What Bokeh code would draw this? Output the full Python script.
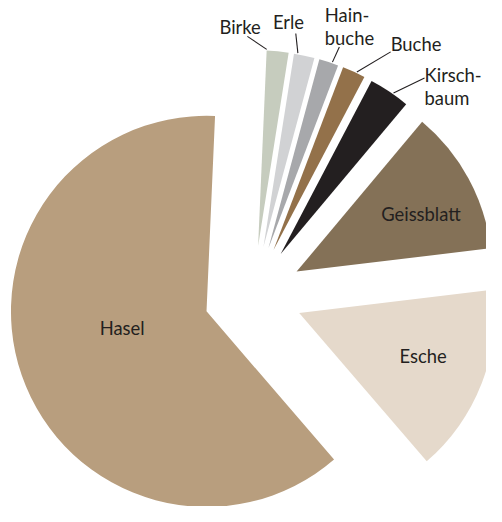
import numpy as np
from bokeh.plotting import figure
from bokeh.models import Range1d
from bokeh.embed import file_html
from bokeh.resources import INLINE
from bokeh.core.properties import value

# ---- data ----
species = ["Birke", "Erle", "Hainbuche", "Buche", "Kirschbaum", "Geissblatt", "Esche", "Hasel"]
shares = [1.8, 1.7, 1.6, 1.9, 3.4, 12.0, 15.6, 62.0]
colors = ["#c6ccbe", "#d1d2d4", "#a7a8ab", "#93714a", "#231f20", "#847157", "#e5d9cb", "#b89e7e"]
inner_species = ["Geissblatt", "Esche", "Hasel"]
outer_species = ["Birke", "Erle", "Hainbuche", "Buche", "Kirschbaum"]
outer_text = [["Birke"], ["Erle"], ["Hain-", "buche"], ["Buche"], ["Kirsch-", "baum"]]

# ---- layout (design coordinates 502 x 522, y downwards) ----
W, H = 486, 506
DW, DH = 502.0, 522.0
CX, CY = 261.0, 304.0
R = 202.0
EXPLODE = 51.0
START = 87.5
FONT = "Lato"
FS = "18.4px"
TXT = "#231f20"

# inner label placement: (radius fraction, angle tweak in deg)
inner_place = {"Geissblatt": (0.70, -3.8), "Esche": (0.67, 2.2), "Hasel": (0.44, -8.0)}
# outer label anchors (align, x, [cap-centre y per line])
outer_place = {
    "Birke": ("center", 247.5, [27.0]),
    "Erle": ("center", 297.5, [22.5]),
    "Hainbuche": ("left", 335.0, [14.5, 38.5]),
    "Buche": ("left", 403.0, [45.0]),
    "Kirschbaum": ("left", 438.0, [76.5, 100.5]),
}
# leader: (fraction along slice from its upper edge, end x, end y)
leader_place = {
    "Birke": (0.0, 255.0, 37.0),
    "Erle": (0.18, 305.0, 34.0),
    "Hainbuche": (0.68, 350.0, 48.0),
    "Buche": (0.62, 403.0, 53.0),
    "Kirschbaum": (0.60, 438.0, 80.0),
}

vals = np.array(shares, dtype=float)
sweep = vals / vals.sum() * 360.0
hi = START - np.concatenate([[0.0], np.cumsum(sweep)[:-1]])
lo = hi - sweep
mid = (hi + lo) / 2.0
cx = CX + EXPLODE * np.cos(np.radians(mid))
cy = -CY + EXPLODE * np.sin(np.radians(mid))

p = figure(width=W, height=H, output_backend="svg", toolbar_location=None,
           x_range=Range1d(0, DW), y_range=Range1d(-DH, 0),
           x_axis_location=None, y_axis_location=None, min_border=0)
p.grid.visible = False
p.outline_line_color = None
p.background_fill_color = "white"
p.border_fill_color = "white"

p.wedge(x=cx, y=cy, radius=R, start_angle=np.radians(lo), end_angle=np.radians(hi),
        fill_color=colors, line_color=None)

idx = {s: i for i, s in enumerate(species)}

# inner labels
for s in inner_species:
    i = idx[s]
    rf, da = inner_place[s]
    a = np.radians(mid[i] + da)
    p.text(x=[cx[i] + rf * R * np.cos(a)], y=[cy[i] + rf * R * np.sin(a)], text=[s],
           text_font=value(FONT), text_font_size=FS, text_color=TXT,
           text_align="center", text_baseline="middle")

# outer labels with leader lines
for s, lines in zip(outer_species, outer_text):
    i = idx[s]
    f, ex, ey = leader_place[s]
    a = np.radians(hi[i] - f * sweep[i])
    sx = cx[i] + (R + 1) * np.cos(a)
    sy = cy[i] + (R + 1) * np.sin(a)
    p.line(x=[sx, ex], y=[sy, -ey], line_color=TXT, line_width=1.1)
    align, tx, tys = outer_place[s]
    for t, ty in zip(lines, tys):
        p.text(x=[tx], y=[-ty], text=[t], text_font=value(FONT), text_font_size=FS,
               text_color=TXT, text_align=align, text_baseline="middle")

open("out.html", "w").write(file_html(p, INLINE))
